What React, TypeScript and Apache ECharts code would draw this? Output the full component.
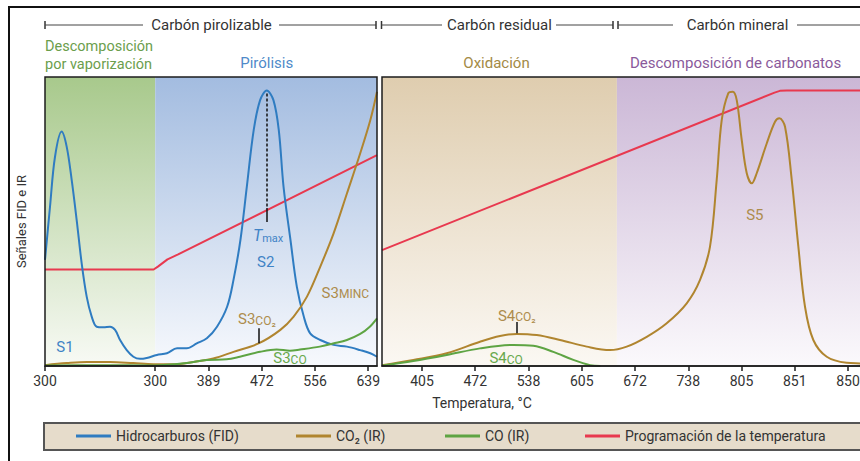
import React, { useEffect, useRef } from 'react';
import * as echarts from 'echarts';

const FONT = 'Roboto, "Liberation Sans", sans-serif';

// Axis positions are in "step" units: one step per temperature label.
const LEFT_TICKS = [0, 2.07, 3.07, 4.07, 5.07, 6.07];
const LEFT_TICK_LABELS = ['300', '300', '389', '472', '556', '639'];
const RIGHT_TICKS = [0, 1, 2, 3, 4, 5, 6, 7, 8];
const RIGHT_TICK_LABELS = ['405', '472', '538', '605', '672', '738', '805', '851', '850'];

const LEFT_MIN = 0;
const LEFT_MAX = 6.235;
const RIGHT_MIN = -0.751;
const RIGHT_MAX = 8.45;

// Phase boundaries (step units)
const VAPOR_END = 2.07;
const OXID_END = 3.66;

// Pyrolysis stage
const FID_PYRO = [
  [0, 36.7], [0.094, 55.1], [0.188, 72.4], [0.313, 81.1], [0.407, 75.9], [0.501, 64.4],
  [0.595, 50.5], [0.689, 35.5], [0.783, 24.0], [0.877, 17.1], [0.971, 13.6], [1.097, 13.4],
  [1.222, 13.6], [1.316, 12.5], [1.41, 9.0], [1.535, 5.5], [1.66, 3.2], [1.786, 2.5],
  [1.91, 2.8], [2.1, 3.8], [2.29, 4.4], [2.48, 6.1], [2.66, 6.1], [2.85, 7.8], [3.04, 9.6],
  [3.23, 13.6], [3.42, 20.5], [3.54, 29.8], [3.67, 43.6], [3.79, 62.0], [3.92, 81.7],
  [4.04, 92.0], [4.165, 95.3], [4.29, 92.0], [4.39, 81.7], [4.48, 62.0], [4.61, 43.6],
  [4.73, 27.4], [4.86, 17.1], [4.98, 11.3], [5.17, 9.0], [5.42, 7.3], [5.67, 6.7],
  [5.92, 5.5], [6.11, 4.4], [6.235, 3.2],
];
const CO2_PYRO = [
  [0, 0.3], [0.407, 1.0], [0.783, 1.4], [1.222, 1.4], [1.66, 1.0], [2.04, 0.6], [2.41, 0.6],
  [2.79, 1.4], [3.16, 2.6], [3.54, 4.9], [4.01, 7.8], [4.42, 12.5], [4.67, 17.1], [4.92, 24.0],
  [5.17, 34.4], [5.42, 45.9], [5.67, 59.7], [5.92, 73.6], [6.11, 85.1], [6.235, 94.9],
];
const CO_PYRO = [
  [0, 0.2], [1.03, 0.3], [2.04, 0.2], [2.66, 1.0], [3.04, 2.1], [3.41, 2.3], [3.66, 3.2],
  [4.04, 4.9], [4.35, 5.7], [4.6, 5.3], [4.79, 5.7], [5.16, 6.7], [5.41, 7.8], [5.67, 9.0],
  [5.92, 11.1], [6.1, 13.6], [6.235, 16.5],
];
const TEMP_PYRO = [
  [0, 33.4], [2.04, 33.4], [2.12, 34.4], [2.3, 36.9], [2.5, 38.6], [6.235, 73.0],
];

// Oxidation stage
const CO2_OXID = [
  [-0.751, 0.3], [-0.163, 2.1], [0.464, 4.4], [1.089, 8.4], [1.465, 10.4], [1.778, 11.1],
  [2.154, 10.7], [2.592, 9.0], [3.093, 6.7], [3.531, 5.5], [3.844, 6.7], [4.22, 10.1],
  [4.595, 14.8], [4.971, 21.7], [5.221, 29.8], [5.408, 41.3], [5.534, 64.4], [5.628, 85.1],
  [5.752, 94.4], [5.835, 94.9], [5.91, 92.0], [6.004, 78.2], [6.098, 66.7], [6.192, 63.2],
  [6.285, 66.7], [6.473, 77.0], [6.629, 84.5], [6.71, 85.7], [6.817, 82.8], [6.943, 64.4],
  [7.067, 41.3], [7.192, 20.5], [7.348, 9.0], [7.6, 3.2], [7.975, 1.1], [8.225, 0.9], [8.45, 0.8],
];
const CO_OXID = [
  [-0.751, 0.1], [-0.163, 1.7], [0.464, 3.8], [1.089, 6.1], [1.715, 7.3], [2.09, 7.0],
  [2.466, 4.9], [2.842, 2.1], [3.155, 0.3], [3.35, 0],
];
const TEMP_OXID = [
  [-0.751, 40.1], [6.62, 94.6], [6.72, 95.2], [6.85, 95.3], [8.45, 95.3],
];

const C_FID = '#2f7cc1';
const C_CO2 = '#b0852f';
const C_CO = '#5ea443';
const C_TEMP = '#e8394f';
const T_BLUE = '#3f83c6';
const T_BROWN = '#ad8c4c';
const T_GREEN = '#68a84c';

const grad = (top: string, bottom: string) =>
  new echarts.graphic.LinearGradient(0, 0, 0, 1, [
    { offset: 0, color: top },
    { offset: 1, color: bottom },
  ]);

const tickFormatter = (ticks: number[], labels: string[]) => (v: number) => {
  const i = ticks.findIndex((t) => Math.abs(t - v) < 1e-6);
  return i >= 0 ? labels[i] : '';
};

const labelRich = (color: string) => ({
  a: { fontSize: 15, lineHeight: 16, color, fontFamily: FONT, verticalAlign: 'bottom' },
  b: { fontSize: 12, lineHeight: 14, color, fontFamily: FONT, verticalAlign: 'bottom' },
  t: { fontSize: 16, lineHeight: 18, color, fontFamily: FONT, fontStyle: 'italic', verticalAlign: 'bottom' },
  m: { fontSize: 11, lineHeight: 11, color, fontFamily: FONT, verticalAlign: 'bottom' },
});

const marker = (color: string, items: { coord: number[]; text: string }[]) => ({
  symbol: 'circle',
  symbolSize: 0,
  silent: true,
  itemStyle: { color: 'transparent' },
  label: { show: true, position: 'inside', color, fontFamily: FONT, fontSize: 15, rich: labelRich(color) },
  data: items.map((d) => ({ coord: d.coord, label: { formatter: d.text } })),
});

const xAxisBase = (gridIndex: number, min: number, max: number, ticks: number[], labels: string[]) => ({
  gridIndex,
  type: 'value',
  min,
  max,
  z: 6,
  axisLine: { show: true, lineStyle: { color: '#1c1c1c', width: 1.5 } },
  axisTick: { show: true, customValues: ticks, length: 5, lineStyle: { color: '#1c1c1c', width: 1.5 } },
  axisLabel: {
    show: true,
    customValues: ticks,
    formatter: tickFormatter(ticks, labels),
    fontSize: 14,
    color: '#333',
    fontFamily: FONT,
    margin: 8,
  },
  splitLine: { show: false },
});

const lineSeries = (name: string, color: string, data: number[][], idx: number, smooth: number | boolean, extra: object = {}) => ({
  name,
  type: 'line',
  xAxisIndex: idx,
  yAxisIndex: idx,
  data,
  smooth,
  symbol: 'none',
  color,
  lineStyle: { color, width: 2 },
  ...extra,
});

export default function App() {
  const ref = useRef<HTMLDivElement>(null);

  useEffect(() => {
    if (!ref.current) return;
    const chart = echarts.init(ref.current, undefined, { renderer: 'svg' });

    const headerLine = (x1: number, x2: number) => ({
      type: 'line',
      shape: { x1, y1: 25, x2, y2: 25 },
      style: { stroke: '#444', lineWidth: 1 },
    });
    const headerTick = (x: number) => ({
      type: 'line',
      shape: { x1: x, y1: 21, x2: x, y2: 29 },
      style: { stroke: '#333', lineWidth: 1.5 },
    });
    const text = (x: number, y: number, s: string, color: string, size: number, align = 'center') => ({
      type: 'text',
      x,
      y,
      style: {
        text: s,
        fill: color,
        font: `${size}px ${FONT}`,
        align,
        textAlign: align,
        verticalAlign: 'middle',
        textVerticalAlign: 'middle',
      },
    });

    const legendBase = {
      top: 429,
      padding: 0,
      itemWidth: 35,
      itemHeight: 3,
      icon: 'rect',
      selectedMode: false,
      textStyle: { fontSize: 14, color: '#333', fontFamily: FONT },
    };

    chart.setOption({
      animation: false,
      backgroundColor: '#ffffff',
      textStyle: { fontFamily: FONT },
      grid: [
        { left: 45, top: 77, width: 332, height: 289, show: true, z: 4, borderColor: '#1c1c1c', borderWidth: 1.5, backgroundColor: 'transparent' },
        { left: 382, top: 77, width: 490, height: 289, show: true, z: 4, borderColor: '#1c1c1c', borderWidth: 1.5, backgroundColor: 'transparent' },
      ],
      xAxis: [
        xAxisBase(0, LEFT_MIN, LEFT_MAX, LEFT_TICKS, LEFT_TICK_LABELS),
        xAxisBase(1, RIGHT_MIN, RIGHT_MAX, RIGHT_TICKS, RIGHT_TICK_LABELS),
      ],
      yAxis: [
        {
          gridIndex: 0, type: 'value', min: 0, max: 100,
          axisLine: { show: false }, axisTick: { show: false }, axisLabel: { show: false }, splitLine: { show: false },
          name: 'Señales FID e IR', nameLocation: 'middle', nameGap: 17,
          nameTextStyle: { fontSize: 13, color: '#333', fontFamily: FONT },
        },
        {
          gridIndex: 1, type: 'value', min: 0, max: 100,
          axisLine: { show: false }, axisTick: { show: false }, axisLabel: { show: false }, splitLine: { show: false },
        },
      ],
      legend: [
        { ...legendBase, left: 76, data: ['Hidrocarburos (FID)'] },
        { ...legendBase, left: 296, data: ['CO₂ (IR)'] },
        { ...legendBase, left: 445, data: ['CO (IR)'] },
        { ...legendBase, left: 585, data: ['Programación de la temperatura'] },
      ],
      series: [
        // phase backgrounds
        {
          type: 'line', xAxisIndex: 0, yAxisIndex: 0, data: [], silent: true,
          markArea: {
            silent: true,
            data: [
              [{ xAxis: LEFT_MIN, yAxis: 0, itemStyle: { color: grad('#a8c98c', '#f8faf5') } }, { xAxis: VAPOR_END, yAxis: 100 }],
              [{ xAxis: VAPOR_END, yAxis: 0, itemStyle: { color: grad('#a3bce0', '#f7f9fd') } }, { xAxis: LEFT_MAX, yAxis: 100 }],
            ],
          },
        },
        {
          type: 'line', xAxisIndex: 1, yAxisIndex: 1, data: [], silent: true,
          markArea: {
            silent: true,
            data: [
              [{ xAxis: RIGHT_MIN, yAxis: 0, itemStyle: { color: grad('#dfcdaf', '#fbf8f3') } }, { xAxis: OXID_END, yAxis: 100 }],
              [{ xAxis: OXID_END, yAxis: 0, itemStyle: { color: grad('#cbb7d6', '#fbf9fc') } }, { xAxis: RIGHT_MAX, yAxis: 100 }],
            ],
          },
        },
        lineSeries('Programación de la temperatura', C_TEMP, TEMP_PYRO, 0, false),
        lineSeries('Hidrocarburos (FID)', C_FID, FID_PYRO, 0, 0.35, {
          markPoint: marker(T_BLUE, [
            { coord: [0.376, 6.7], text: 'S1' },
            { coord: [4.145, 36.1], text: 'S2' },
            { coord: [4.19, 45.5], text: '{t|T}{m|max}' },
          ]),
          markLine: {
            silent: true,
            symbol: ['none', 'none'],
            label: { show: false },
            lineStyle: { color: '#111', width: 1.5 },
            data: [
              [{ coord: [4.165, 94.3], lineStyle: { type: [3, 2], color: '#111', width: 1.5 } }, { coord: [4.165, 54.7] }],
              [{ coord: [4.165, 54.7], lineStyle: { type: 'solid', color: '#111', width: 1.5 } }, { coord: [4.165, 49.8] }],
            ],
          },
        }),
        lineSeries('CO₂ (IR)', C_CO2, CO2_PYRO, 0, 0.35, {
          markPoint: marker(T_BROWN, [
            { coord: [3.98, 16.3], text: '{a|S3}{b|CO₂}' },
            { coord: [5.64, 25.6], text: '{a|S3}{b|MINC}' },
          ]),
          markLine: {
            silent: true,
            symbol: ['none', 'none'],
            label: { show: false },
            lineStyle: { color: '#111', width: 1.5, type: 'solid' },
            data: [[{ coord: [4.006, 13.1] }, { coord: [4.006, 7.9] }]],
          },
        }),
        lineSeries('CO (IR)', C_CO, CO_PYRO, 0, 0.35, {
          markPoint: marker(T_GREEN, [{ coord: [4.6, 2.8], text: '{a|S3}{b|CO}' }]),
        }),
        lineSeries('Programación de la temperatura', C_TEMP, TEMP_OXID, 1, false),
        lineSeries('CO₂ (IR)', C_CO2, CO2_OXID, 1, 0.35, {
          markPoint: marker(T_BROWN, [
            { coord: [1.78, 17.6], text: '{a|S4}{b|CO₂}' },
            { coord: [6.25, 52.2], text: 'S5' },
          ]),
          markLine: {
            silent: true,
            symbol: ['none', 'none'],
            label: { show: false },
            lineStyle: { color: '#111', width: 1.5, type: 'solid' },
            data: [[{ coord: [1.778, 15.2] }, { coord: [1.778, 11.3] }]],
          },
        }),
        lineSeries('CO (IR)', C_CO, CO_OXID, 1, 0.35, {
          markPoint: marker(T_GREEN, [{ coord: [1.58, 2.8], text: '{a|S4}{b|CO}' }]),
        }),
      ],
      graphic: [
        // outer frame
        { type: 'rect', z: 0, shape: { x: 9, y: 7, width: 900, height: 500 }, style: { fill: 'none', stroke: '#111', lineWidth: 2 } },
        // legend box
        { type: 'rect', z: -1, shape: { x: 44, y: 423, width: 900, height: 27 }, style: { fill: '#e6dccb', stroke: '#555', lineWidth: 2 } },
        // carbon category brackets
        headerTick(45), headerLine(45, 143),
        headerLine(279, 376), headerTick(376), headerTick(381.5), headerLine(381.5, 442),
        headerLine(556, 613), headerTick(613), headerTick(618), headerLine(618, 673),
        headerLine(797, 890),
        text(211.5, 25, 'Carbón pirolizable', '#333', 15),
        text(499.5, 25, 'Carbón residual', '#333', 15),
        text(737.5, 25, 'Carbón mineral', '#333', 15),
        // phase names
        text(45, 46.5, 'Descomposición', '#6b9e4c', 14.5, 'left'),
        text(45, 64, 'por vaporización', '#6b9e4c', 14.5, 'left'),
        text(266.7, 63, 'Pirólisis', '#4f8ac9', 15),
        text(496.5, 63, 'Oxidación', '#a38a45', 15),
        text(735.5, 63, 'Descomposición de carbonatos', '#8a5a9b', 15),
        // x axis title
        text(482, 403, 'Temperatura, °C', '#333', 14),
      ],
    });

    return () => chart.dispose();
  }, []);

  return (
    <div
      ref={ref}
      style={{ position: 'fixed', left: 0, top: 0, width: 900, height: 461, background: '#fff' }}
    />
  );
}
